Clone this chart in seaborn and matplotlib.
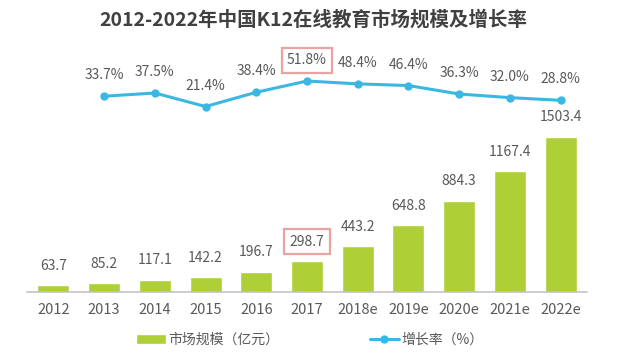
import numpy as np
import pandas as pd
import matplotlib
matplotlib.use("Agg")
import matplotlib.pyplot as plt
import seaborn as sns

years = ["2012", "2013", "2014", "2015", "2016", "2017",
         "2018e", "2019e", "2020e", "2021e", "2022e"]
market_size = [63.7, 85.2, 117.1, 142.2, 196.7, 298.7,
               443.2, 648.8, 884.3, 1167.4, 1503.4]
growth_rate = [33.7, 37.5, 21.4, 38.4, 51.8, 48.4,
               46.4, 36.3, 32.0, 28.8]
growth_years = years[1:]

title = "2012-2022年中国K12在线教育市场规模及增长率"
bar_label = "市场规模（亿元）"
line_label = "增长率（%）"
highlight = "2017"

BAR_COLOR = "#AECF35"
LINE_COLOR = "#3BB8E2"
TEXT_COLOR = "#595959"
BOX_COLOR = "#E8A3A3"

sns.set_theme(style="white")
plt.rcParams['font.family'] = ['Noto Sans CJK SC', 'DejaVu Sans']

df_bar = pd.DataFrame({"year": years, "size": market_size})
df_line = pd.DataFrame({"pos": [years.index(y) for y in growth_years],
                        "rate": growth_rate, "year": growth_years})

fig = plt.figure(figsize=(6.27, 3.62), dpi=100)
ax = fig.add_axes([27 / 627, 70 / 362, 560 / 627, 252 / 362])

sns.barplot(data=df_bar, x="year", y="size", color=BAR_COLOR, width=0.63,
            saturation=1, ax=ax, label=bar_label)
if ax.get_legend() is not None:
    ax.get_legend().remove()
ax.set_xlim(-0.52, len(years) - 0.48)
ax.set_ylim(0, 2440)

for i, (y, v) in enumerate(zip(years, market_size)):
    kw = {}
    if y == highlight:
        kw["bbox"] = dict(boxstyle="square,pad=0.4", fc="none",
                          ec=BOX_COLOR, lw=1.6)
    ax.annotate(f"{v:.1f}", (i, v), xytext=(0, 14), textcoords="offset points",
                ha="center", va="center", fontsize=10, color=TEXT_COLOR, **kw)

ax2 = ax.twinx()
sns.lineplot(data=df_line, x="pos", y="rate", color=LINE_COLOR, lw=2.2,
             marker="o", markersize=6, markeredgewidth=0, ax=ax2,
             label=line_label, legend=False)
ax2.set_ylim(-199.7, 100.7)

for p, y, v in zip(df_line["pos"], growth_years, growth_rate):
    kw = {}
    if y == highlight:
        kw["bbox"] = dict(boxstyle="square,pad=0.4", fc="none",
                          ec=BOX_COLOR, lw=1.6)
    ax2.annotate(f"{v:.1f}%", (p, v), xytext=(0, 15), textcoords="offset points",
                 ha="center", va="center", fontsize=10, color=TEXT_COLOR, **kw)

for a in (ax, ax2):
    for s in ("top", "right", "left"):
        a.spines[s].set_visible(False)
    a.set_yticks([])
    a.set_ylabel("")
    a.set_xlabel("")
ax2.spines["bottom"].set_visible(False)
ax.spines["bottom"].set_color("#BFBFBF")
ax.spines["bottom"].set_linewidth(1.1)
ax.tick_params(axis="x", length=0, pad=8, labelsize=10.5, labelcolor=TEXT_COLOR)

fig.text(0.5, 1 - 20 / 362, title, ha="center", va="center",
         fontsize=14, fontweight="bold", color="#404040")

h1, l1 = ax.get_legend_handles_labels()
h2, l2 = ax2.get_legend_handles_labels()
fig.legend(h1 + h2, l1 + l2, loc="center", ncol=2,
           bbox_to_anchor=(310 / 627, 22 / 362), frameon=False,
           fontsize=10, labelcolor=TEXT_COLOR, handlelength=2.1,
           handleheight=0.7, handletextpad=0.2, columnspacing=6.5)

fig.savefig("out.png", dpi=100)
